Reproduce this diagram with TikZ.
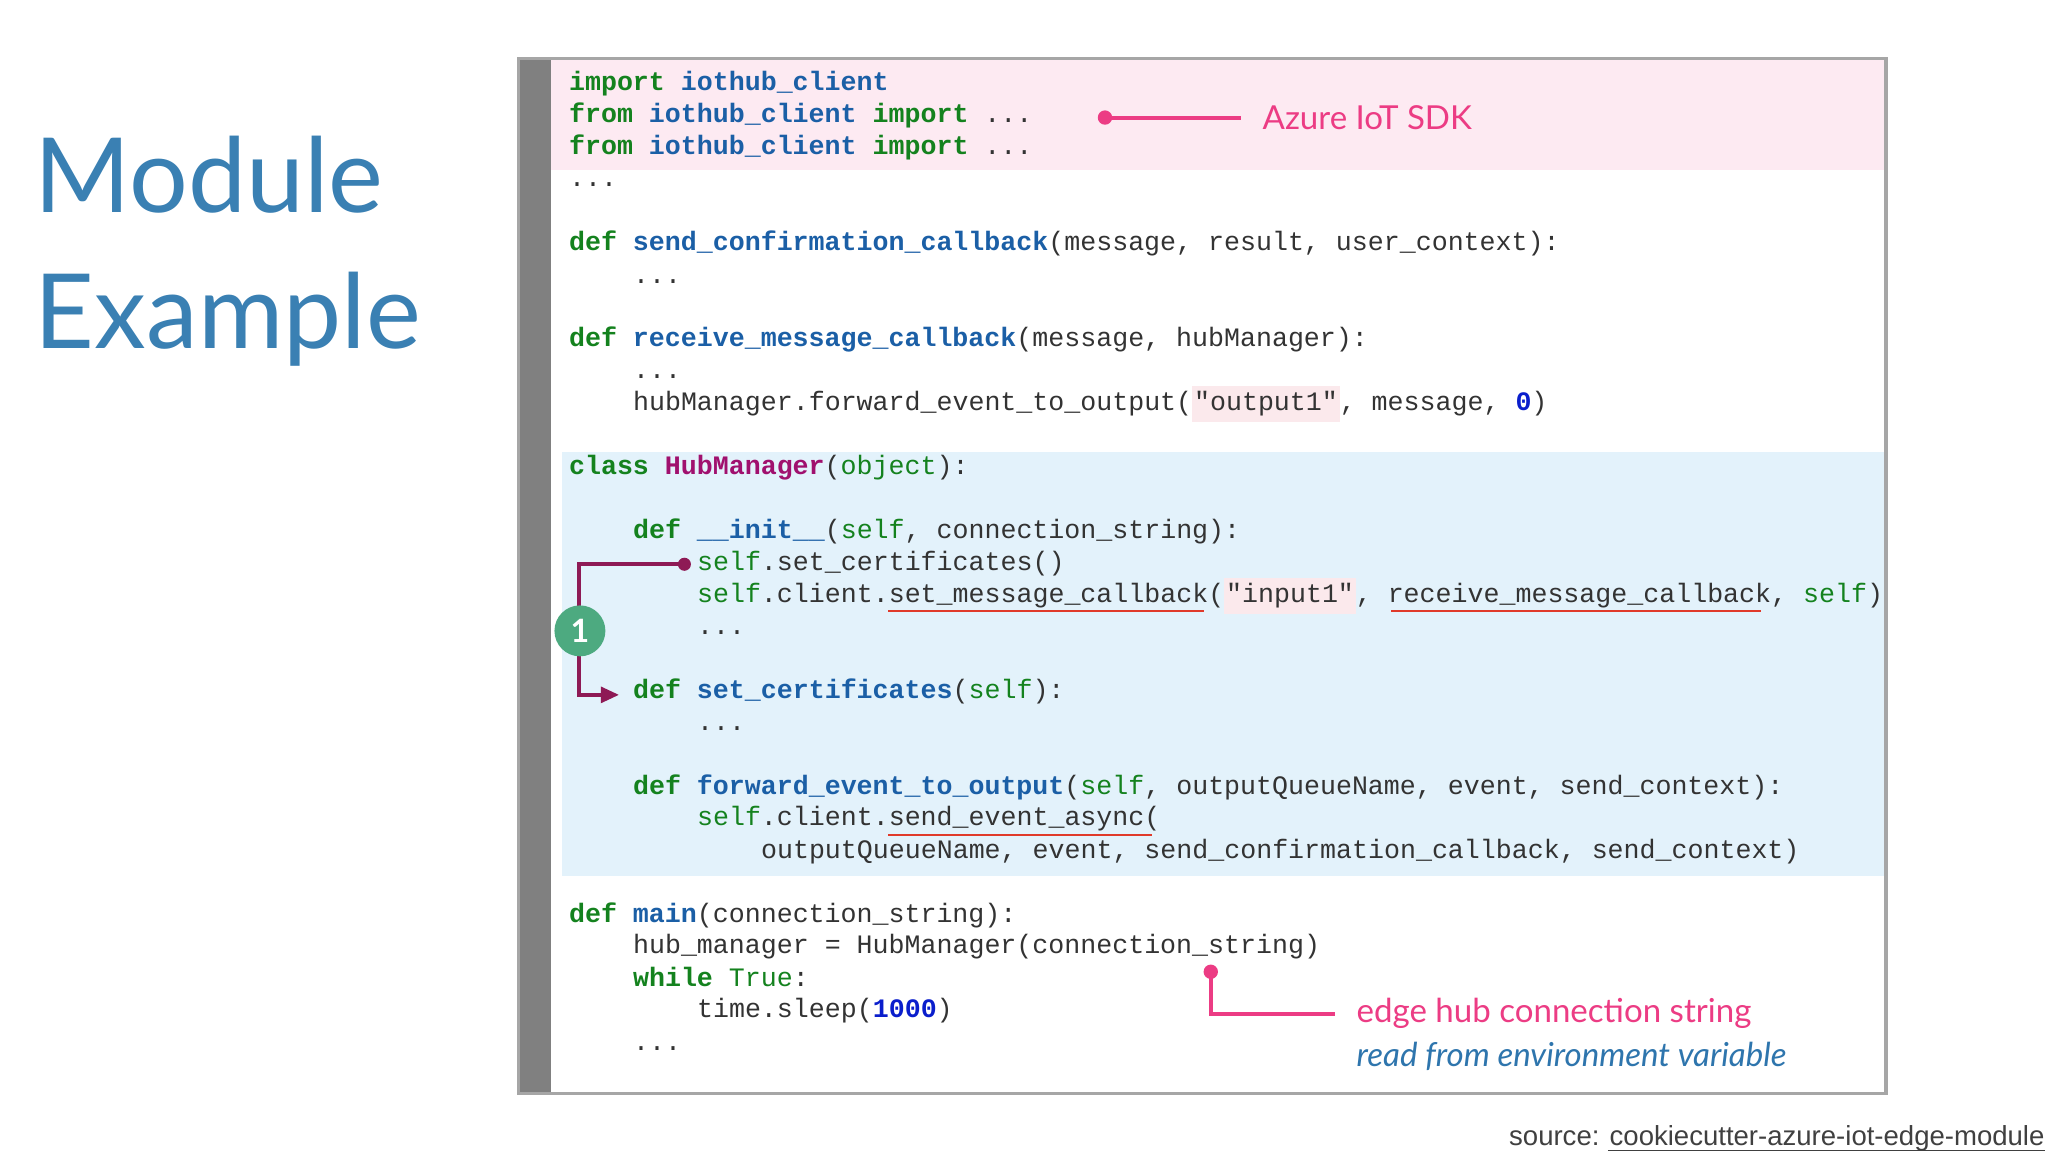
\documentclass[tikz,border=0pt]{standalone}
\usepackage{fontspec}
\setmainfont{Lato}
\newfontfamily\codef{Liberation Mono}
\newfontfamily\srcf{Liberation Sans}
\usetikzlibrary{arrows.meta}
\definecolor{kwc}{HTML}{14821E}
\definecolor{fnc}{HTML}{1B5FA6}
\definecolor{clc}{HTML}{A0106E}
\definecolor{numc}{HTML}{0A1ECC}
\definecolor{txc}{HTML}{333333}
\definecolor{strbg}{HTML}{FBE9EC}
\definecolor{pinkbg}{HTML}{FDEAF2}
\definecolor{bluebg}{HTML}{E3F2FB}
\definecolor{titc}{HTML}{3A80B3}
\definecolor{annp}{HTML}{EC3C84}
\definecolor{purp}{HTML}{8E1A55}
\definecolor{annb}{HTML}{2E75AD}
\definecolor{ulr}{HTML}{E03A2A}
\definecolor{onec}{HTML}{4DAA80}
\newcommand{\kw}[1]{\textcolor{kwc}{\bfseries #1}}
\newcommand{\gr}[1]{\textcolor{kwc}{#1}}
\newcommand{\fn}[1]{\textcolor{fnc}{\bfseries #1}}
\newcommand{\cl}[1]{\textcolor{clc}{\bfseries #1}}
\newcommand{\nm}[1]{\textcolor{numc}{\bfseries #1}}
\newcommand{\st}[1]{{\setlength\fboxsep{0.4pt}\colorbox{strbg}{\strut #1}}}
\begin{document}
\begin{tikzpicture}[x=0.1mm,y=-0.1mm,
  code/.style={anchor=base west,inner sep=0,font=\codef\fontsize{5.8}{7}\selectfont,text=txc},
  ann/.style={anchor=base west,inner sep=0,font=\fontsize{7.2}{9}\selectfont}]
\useasboundingbox (0,0) rectangle (1568,882);
\fill[white] (0,0) rectangle (1568,882);
% title
\node[anchor=base west,inner sep=0,text=titc,font=\fontsize{22.6}{28}\selectfont] (t1) at (26,163) {Module};
\node[anchor=base west,inner sep=0,text=titc,font=\fontsize{22.6}{28}\selectfont] (t2) at (26,267) {Example};
% panel
\fill[pinkbg] (422,46) rectangle (1444,130);
\fill[bluebg] (430,346) rectangle (1444,671);
\fill[gray] (397,45) rectangle (422,837);
\draw[gray!70,line width=0.25mm] (397,45) rectangle (1444,837);
% code
\def\a{435}\def\b{484}\def\c{533}\def\d{582}
\node[code] (l1) at (\a,69) {\kw{import} \fn{iothub\_client}};
\node[code] (l2) at (\a,94) {\kw{from} \fn{iothub\_client} \kw{import} ...};
\node[code] (l3) at (\a,118) {\kw{from} \fn{iothub\_client} \kw{import} ...};
\node[code] (l4) at (\a,143) {...};
\node[code] (l5) at (\a,192) {\kw{def} \fn{send\_confirmation\_callback}(message, result, user\_context):};
\node[code] (l6) at (\b,217) {...};
\node[code] (l7) at (\a,265) {\kw{def} \fn{receive\_message\_callback}(message, hubManager):};
\node[code] (l8) at (\b,290) {...};
\node[code] (l9) at (\b,314) {hubManager.forward\_event\_to\_output(\st{"output1"}, message, \nm{0})};
\node[code] (l10) at (\a,363) {\kw{class} \cl{HubManager}(\gr{object}):};
\node[code] (l11) at (\b,412) {\kw{def} \fn{\_\_init\_\_}(\gr{self}, connection\_string):};
\node[code] (l12) at (\c,437) {\gr{self}.set\_certificates()};
\node[code] (l13) at (\c,461) {\gr{self}.client.set\_message\_callback(\st{"input1"}, receive\_message\_callback, \gr{self})};
\node[code] (l14) at (\c,486) {...};
\node[code] (l15) at (\b,535) {\kw{def} \fn{set\_certificates}(\gr{self}):};
\node[code] (l16) at (\c,559) {...};
\node[code] (l17) at (\b,608) {\kw{def} \fn{forward\_event\_to\_output}(\gr{self}, outputQueueName, event, send\_context):};
\node[code] (l18) at (\c,632) {\gr{self}.client.send\_event\_async(};
\node[code] (l19) at (\d,657) {outputQueueName, event, send\_confirmation\_callback, send\_context)};
\node[code] (l20) at (\a,706) {\kw{def} \fn{main}(connection\_string):};
\node[code] (l21) at (\b,730) {hub\_manager = HubManager(connection\_string)};
\node[code] (l22) at (\b,755) {\kw{while} \gr{True}:};
\node[code] (l23) at (\c,779) {time.sleep(\nm{1000})};
\node[code] (l24) at (\b,804) {...};
% underlines
\draw[ulr,line width=0.15mm] (680,468) -- (922,468);
\draw[ulr,line width=0.15mm] (1065,468) -- (1348,468);
\draw[ulr,line width=0.15mm] (680,639) -- (882,639);
% Azure annotation
\coordinate (p1) at (846,90);
\coordinate (p2) at (950,90);
\fill[annp] (p1) circle (5.5);
\draw[annp,line width=0.3mm] (p1) -- (p2);
\node[ann,text=annp,anchor=west] (azure) at (966,90) {Azure IoT SDK};
% purple bracket
\coordinate (q1) at (524,432);
\coordinate (q2) at (474,532);
\fill[purp] (q1) circle (5);
\draw[purp,line width=0.3mm,-{Triangle[length=1.4mm,width=1.2mm]}] (q1) -- (443,432) -- (443,532) -- (q2);
\node[circle,fill=onec,minimum size=3.9mm,inner sep=0,text=white,font=\bfseries\fontsize{7}{8}\selectfont] (one) at (444,483) {1};
% edge hub annotation
\coordinate (r1) at (927,744);
\coordinate (r2) at (1022,776);
\fill[annp] (r1) circle (5.5);
\draw[annp,line width=0.3mm] (r1) -- (927,776) -- (r2);
\node[ann,text=annp,anchor=west] (edge) at (1038,776) {edge hub connection string};
\node[ann,text=annb,anchor=west,font=\itshape\fontsize{7.2}{9}\selectfont] (env) at (1038,809) {read from environment variable};
% source
\node[anchor=base east,inner sep=0,text=black!75,font=\srcf\fontsize{6.0}{8}\selectfont] (src) at (1566,877) {source: cookiecutter-azure-iot-edge-module};
\draw[black!75,line width=0.1mm] (1231,881) -- (src.base east |- 0,881);
\end{tikzpicture}
\end{document}
